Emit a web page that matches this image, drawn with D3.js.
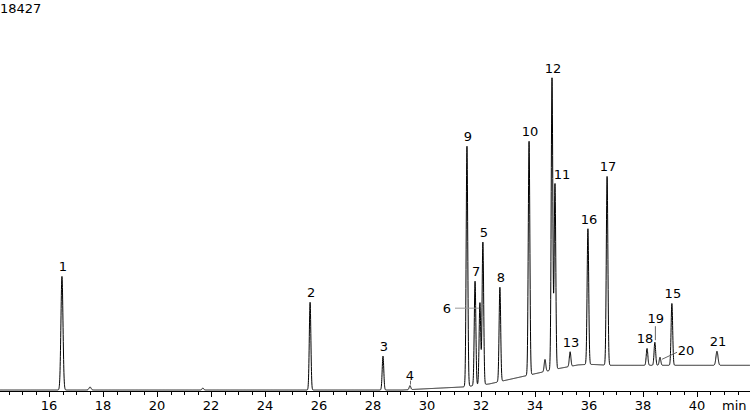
<!DOCTYPE html>
<html><head><meta charset="utf-8">
<script src="https://cdn.jsdelivr.net/npm/d3@7"></script>
<style>body{margin:0;background:#fff}svg text{font-family:"DejaVu Sans",Verdana,sans-serif;font-size:13px;fill:#000}</style>
</head><body>
<svg id="chart" width="750" height="412"></svg>
<script>
// peak table: retention time (min), height (counts above baseline), label
var peakTimes   = [16.48, 17.52, 21.7, 25.67, 28.37, 29.37, 31.48, 31.78, 31.96, 32.07, 32.70, 33.78, 34.37, 34.63, 34.74, 35.30, 35.96, 36.67, 38.15, 38.44, 38.63, 39.07, 40.74];
var peakHeights = [5660, 150, 100, 4370, 1690, 200, 11970, 5200, 4100, 7100, 4700, 11650, 600, 14550, 9250, 730, 6760, 9400, 840, 1150, 400, 3080, 700];
var peakLabels  = ["1", "", "", "2", "3", "4", "9", "7", "6", "5", "8", "10", "", "12", "11", "13", "16", "17", "18", "19", "20", "15", "21"];
// baseline drift (time, counts)
var baseTimes  = [14.1, 29.1, 29.8, 31.3, 32.3, 33.3, 34.3, 34.8, 35.6, 36.0, 36.8, 42.0];
var baseValues = [0, 0, 50, 150, 300, 600, 900, 1050, 1250, 1280, 1230, 1230];
var xTicks = [16, 18, 20, 22, 24, 26, 28, 30, 32, 34, 36, 38, 40];
var yMaxLabel = "18427";

var svg = d3.select("#chart");
var x = d3.scaleLinear().domain([16, 40]).range([49, 697]);
var y = d3.scaleLinear().domain([0, 18427]).range([390, 20]);
var base = d3.scaleLinear().domain(baseTimes).range(baseValues);
var sigma = 0.029;

function signal(t) {
  var s = base(t);
  peakTimes.forEach(function (p, i) {
    var w = (p < 20 || p > 40) ? sigma * 1.3 : sigma;
    s += peakHeights[i] * Math.exp(-0.5 * Math.pow((t - p) / w, 2));
  });
  return s;
}
var trace = d3.range(x.invert(0), x.invert(750), 0.004).map(function (t) { return [t, signal(t)]; });

svg.append("path").datum(trace)
  .attr("fill", "none").attr("stroke", "#000").attr("stroke-width", 1)
  .attr("d", d3.line().x(function (d) { return x(d[0]); }).y(function (d) { return y(d[1]); }));

// axis
var ay = 391;
svg.append("line").attr("x1", 0).attr("x2", 750).attr("y1", ay + 0.5).attr("y2", ay + 0.5).attr("stroke", "#000");
var minor = d3.range(14.5, 41.8, 0.5);
svg.selectAll(".tk").data(minor).enter().append("line")
  .attr("x1", function (d) { return Math.round(x(d)) + 0.5; })
  .attr("x2", function (d) { return Math.round(x(d)) + 0.5; })
  .attr("y1", ay).attr("y2", function (d) { return d % 2 === 0 ? ay + 6 : ay + 4; })
  .attr("stroke", "#000");
svg.selectAll(".tl").data(xTicks).enter().append("text")
  .attr("x", function (d) { return x(d); }).attr("y", 410)
  .attr("text-anchor", "middle").text(function (d) { return d; });
svg.append("text").attr("x", 722).attr("y", 410).text("min");
svg.append("text").attr("x", 0).attr("y", 13).text(yMaxLabel);

// peak labels
peakTimes.forEach(function (p, i) {
  var lab = peakLabels[i];
  if (!lab) return;
  var px = x(p), py = y(signal(p));
  if (lab === "6") {
    var ly = y(base(p) + peakHeights[i]);
    svg.append("line").attr("x1", 455).attr("x2", px - 1).attr("y1", ly + 5.5).attr("y2", ly + 5.5).attr("stroke", "#999");
    svg.append("text").attr("x", 447).attr("y", ly + 10).attr("text-anchor", "middle").text(lab);
  } else if (lab === "20") {
    svg.append("line").attr("x1", px + 2).attr("y1", py + 2).attr("x2", 677).attr("y2", py - 5).attr("stroke", "#666");
    svg.append("text").attr("x", 686).attr("y", py - 2).attr("text-anchor", "middle").text(lab);
  } else if (lab === "19") {
    svg.append("line").attr("x1", px + 0.5).attr("x2", px + 0.5).attr("y1", py - 2).attr("y2", py - 16).attr("stroke", "#666");
    svg.append("text").attr("x", px + 1).attr("y", py - 19).attr("text-anchor", "middle").text(lab);
  } else if (lab === "18") {
    svg.append("text").attr("x", px - 2).attr("y", py - 5).attr("text-anchor", "middle").text(lab);
  } else if (lab === "11") {
    svg.append("text").attr("x", px + 7).attr("y", py - 4).attr("text-anchor", "middle").text(lab);
  } else if (lab === "4") {
    svg.append("line").attr("x1", px + 0.5).attr("x2", px + 0.5).attr("y1", py - 1).attr("y2", py - 5).attr("stroke", "#666");
    svg.append("text").attr("x", px).attr("y", py - 6).attr("text-anchor", "middle").text(lab);
  } else {
    svg.append("text").attr("x", px + 1).attr("y", py - 5).attr("text-anchor", "middle").text(lab);
  }
});
</script>
</body></html>
